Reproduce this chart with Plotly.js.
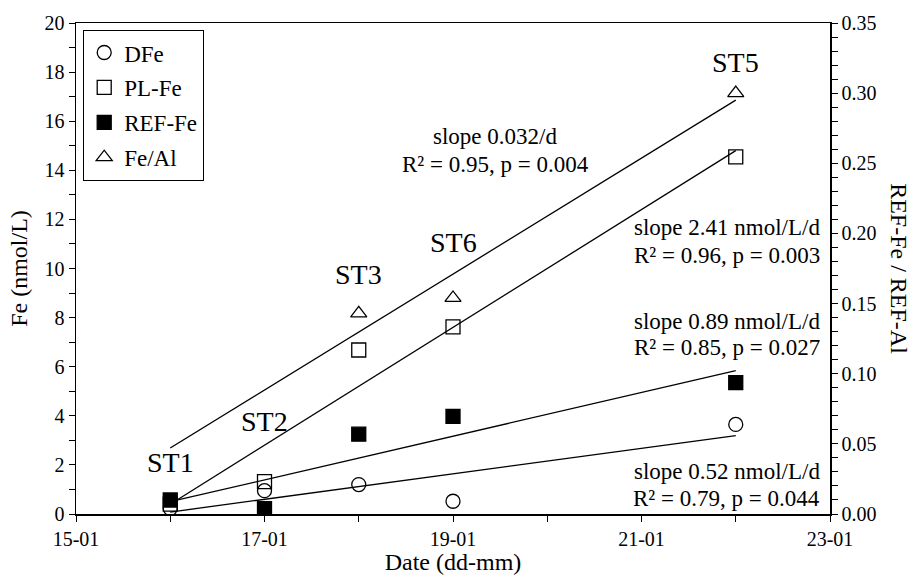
<!DOCTYPE html>
<html><head><meta charset="utf-8">
<script src="https://cdn.plot.ly/plotly-3.0.1.min.js"></script>
<style>body{margin:0;background:#fff}#chart{width:913px;height:575px}</style>
</head><body><div id="chart"></div>
<script>
// Day of January
const days = [16, 17, 18, 19, 22];
const dfe = [0.22, 0.95, 1.2, 0.52, 3.65];
const plfe = [0.4, 1.32, 6.68, 7.62, 14.55];
const reffe = [0.57, 0.22, 3.25, 3.98, 5.35];
const feAlDays = [18, 19, 22];
const feAl = [0.143, 0.154, 0.300];
// Regression lines (endpoints)
const fitDays = [16, 22];
const fitDFe = [0.08, 3.19];
const fitPL = [0.4, 14.8];
const fitREF = [0.5, 5.84];
const fitFeAl = [0.047, 0.295];
const xTickVals = [15, 17, 19, 21, 23];
const xTickText = ['15-01', '17-01', '19-01', '21-01', '23-01'];
const stations = ['ST1', 'ST2', 'ST3', 'ST6', 'ST5'];
const stationDays = [16, 17, 18, 19, 22];
const stationY = [2.1, 3.75, 9.75, 11.05, 18.4];
const slopeTexts = [
  ['slope 0.032/d', 'R² = 0.95, p = 0.004'],
  ['slope 2.41 nmol/L/d', 'R² = 0.96, p = 0.003'],
  ['slope 0.89 nmol/L/d', 'R² = 0.85, p = 0.027'],
  ['slope 0.52 nmol/L/d', 'R² = 0.79, p = 0.044']
];

const F = '"Liberation Serif", "Times New Roman", serif';
const line = {color: '#000', width: 1.3};
const fit = (x, y, ax) => ({x, y, yaxis: ax, mode: 'lines', line, showlegend: false, hoverinfo: 'skip'});
const mk = (sym) => ({symbol: sym, size: 14, color: '#000', line: {color: '#000', width: 1.3}});

const traces = [
  fit(fitDays, fitDFe, 'y'),
  fit(fitDays, fitPL, 'y'),
  fit(fitDays, fitREF, 'y'),
  fit(fitDays, fitFeAl, 'y2'),
  {x: days, y: dfe, name: 'DFe', mode: 'markers', marker: mk('circle-open'), legendgroup: 'a'},
  {x: days, y: plfe, name: 'PL-Fe', mode: 'markers', marker: mk('square-open'), legendgroup: 'b'},
  {x: days, y: reffe, name: 'REF-Fe', mode: 'markers', marker: mk('square'), legendgroup: 'c'},
  {x: feAlDays, y: feAl, name: 'Fe/Al', yaxis: 'y2', mode: 'markers', marker: mk('triangle-up-open'), legendgroup: 'd'}
];

const annotations = [];
stations.forEach((s, i) => annotations.push({x: stationDays[i], y: stationY[i], text: s, showarrow: false, font: {family: F, size: 28, color: '#000'}, xanchor: 'center', yanchor: 'middle'}));
const slopePos = [
  {x: 19.45, ys: [15.36, 14.22], anchor: 'center'},
  {x: 22.92, ys: [11.69, 10.55], anchor: 'right'},
  {x: 22.92, ys: [7.86, 6.80], anchor: 'right'},
  {x: 22.92, ys: [1.75, 0.65], anchor: 'right'}
];
slopeTexts.forEach((t, i) => {
  t.forEach((txt, j) => annotations.push({x: slopePos[i].x, y: slopePos[i].ys[j], text: txt, showarrow: false, xanchor: slopePos[i].anchor, yanchor: 'middle', font: {family: F, size: 23, color: '#000'}}));
});
annotations.push({xref: 'paper', yref: 'paper', x: 1.092, y: 0.5, xanchor: 'center', text: 'REF-Fe / REF-Al', textangle: 90, showarrow: false, font: {family: F, size: 24, color: '#000'}});

const tickFont = {family: F, size: 20, color: '#000'};
const layout = {
  width: 913, height: 575,
  margin: {l: 76, r: 83, t: 23, b: 61},
  paper_bgcolor: '#fff', plot_bgcolor: '#fff',
  font: {family: F, color: '#000'},
  xaxis: {range: [15, 23], tickvals: xTickVals, ticktext: xTickText, ticks: 'outside', ticklen: 6, tickwidth: 1, tickcolor: '#000',
    minor: {dtick: 1, tick0: 15, ticks: 'outside', ticklen: 6, tickcolor: '#000'},
    showline: true, linecolor: '#000', linewidth: 1.5, mirror: true, showgrid: false, zeroline: false,
    tickfont: tickFont, title: {text: 'Date (dd-mm)', font: {family: F, size: 24, color: '#000'}, standoff: 4}},
  yaxis: {range: [0, 20], dtick: 2, ticks: 'outside', ticklen: 6, tickcolor: '#000',
    minor: {dtick: 1, ticks: 'outside', ticklen: 6, tickcolor: '#000'},
    showline: true, linecolor: '#000', linewidth: 1.5, showgrid: false, zeroline: false,
    tickfont: tickFont, title: {text: 'Fe (nmol/L)', font: {family: F, size: 24, color: '#000'}, standoff: 10}},
  yaxis2: {overlaying: 'y', side: 'right', range: [0, 0.35], dtick: 0.05, tickformat: '.2f', ticks: 'outside', ticklen: 6, tickcolor: '#000',
    minor: {dtick: 0.01, ticks: 'outside', ticklen: 6, tickcolor: '#000'},
    showline: true, linecolor: '#000', linewidth: 1.5, showgrid: false, zeroline: false, tickfont: tickFont},
  showlegend: true,
  legend: {x: 0.0093, y: 0.986, xanchor: 'left', yanchor: 'top', bordercolor: '#000', borderwidth: 1.2, bgcolor: '#fff',
    font: {family: F, size: 23, color: '#000'}, traceorder: 'grouped', tracegroupgap: 2, itemwidth: 30},
  annotations
};
Plotly.newPlot('chart', traces, layout, {staticPlot: true});
</script></body></html>
